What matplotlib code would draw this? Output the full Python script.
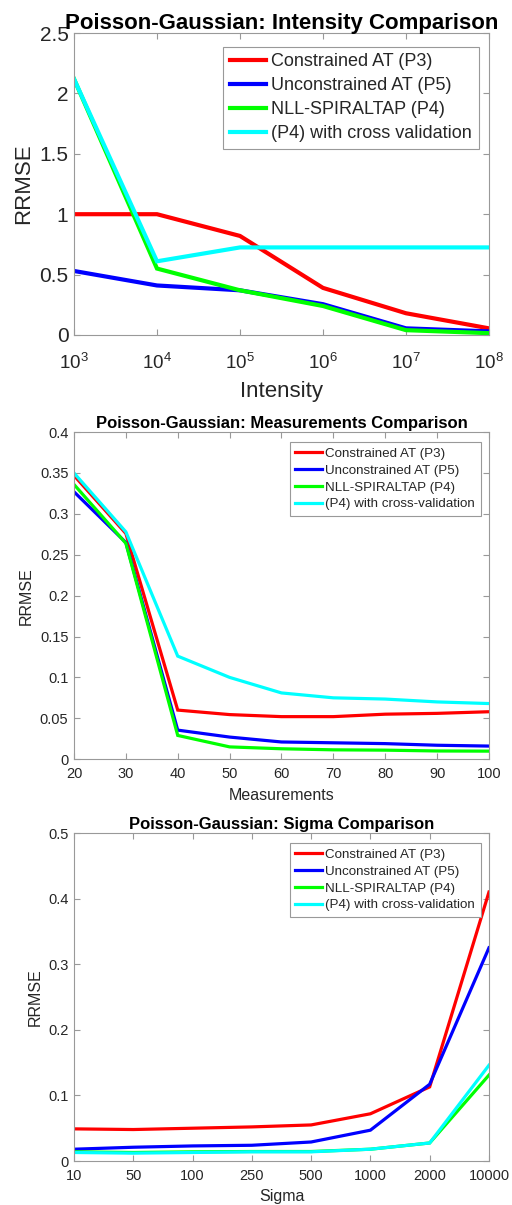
import numpy as np
import matplotlib
matplotlib.use("Agg")
import matplotlib.pyplot as plt
from matplotlib.ticker import FuncFormatter, NullLocator

plt.rcParams['font.family'] = ['Liberation Sans', 'DejaVu Sans']
plt.rcParams['mathtext.default'] = 'regular'

labels = ['Constrained AT (P3)', 'Unconstrained AT (P5)', 'NLL-SPIRALTAP (P4)']
colors = ['#ff0000', '#0000ff', '#00ff00', '#00ffff']

# intensity sweep
intensity = [1e3, 1e4, 1e5, 1e6, 1e7, 1e8]
int_p3 = [1.0, 1.0, 0.82, 0.39, 0.18, 0.055]
int_p5 = [0.53, 0.41, 0.37, 0.255, 0.055, 0.03]
int_p4 = [2.12, 0.55, 0.37, 0.24, 0.04, 0.015]
int_p4cv = [2.12, 0.61, 0.725, 0.725, 0.725, 0.725]

# number of measurements sweep
measurements = [20, 30, 40, 50, 60, 70, 80, 90, 100]
meas_p3 = [0.347, 0.276, 0.060, 0.0545, 0.052, 0.052, 0.055, 0.056, 0.058]
meas_p5 = [0.327, 0.265, 0.0355, 0.027, 0.021, 0.020, 0.019, 0.017, 0.016]
meas_p4 = [0.336, 0.264, 0.029, 0.015, 0.0127, 0.0114, 0.011, 0.010, 0.0098]
meas_p4cv = [0.350, 0.278, 0.126, 0.100, 0.081, 0.075, 0.0735, 0.070, 0.068]

# noise sigma sweep
sigma = ['10', '50', '100', '250', '500', '1000', '2000', '10000']
sig_p3 = [0.049, 0.048, 0.050, 0.052, 0.055, 0.072, 0.113, 0.410]
sig_p5 = [0.018, 0.021, 0.023, 0.024, 0.029, 0.047, 0.117, 0.325]
sig_p4 = [0.014, 0.013, 0.014, 0.0145, 0.0145, 0.018, 0.0275, 0.131]
sig_p4cv = [0.013, 0.012, 0.013, 0.014, 0.014, 0.018, 0.0275, 0.146]


def style_axes(ax, tick_size, xpad):
    for s in ax.spines.values():
        s.set_color('#999999')
        s.set_linewidth(0.8)
    ax.tick_params(direction='in', top=True, right=True, length=4, width=0.8,
                   color='#999999', labelcolor='#262626', labelsize=tick_size, pad=4)
    ax.tick_params(axis='x', pad=xpad)


def draw(ax, x, series, cv_label, lw, fs, title, xlabel, legend_anchor, spacing, bpad):
    names = labels + [cv_label]
    for ys, c, name in zip(series, colors, names):
        ax.plot(x, ys, color=c, lw=lw, label=name, solid_joinstyle='miter')
    ax.set_title(title, fontsize=fs['title'], fontweight='bold', pad=3)
    ax.set_xlabel(xlabel, fontsize=fs['label'], color='#262626', labelpad=fs['labelpad'])
    ax.set_ylabel('RRMSE', fontsize=fs['label'], color='#262626')
    ax.yaxis.set_major_formatter(FuncFormatter(lambda v, p: '%g' % round(v, 4)))
    leg = ax.legend(loc='upper right', bbox_to_anchor=legend_anchor, borderaxespad=0,
                    fontsize=fs['legend'], fancybox=False, framealpha=1,
                    edgecolor='#999999', handlelength=2.0, handletextpad=0.25,
                    labelspacing=spacing, borderpad=bpad)
    leg.get_frame().set_linewidth(0.8)
    for t in leg.get_texts():
        t.set_color('#262626')


fig = plt.figure(figsize=(5.12, 12.05), dpi=100)

ax1 = fig.add_axes([0.1445, 0.722, 0.8105, 0.2506])
ax1.set_xscale('log')
draw(ax1, intensity, [int_p3, int_p5, int_p4, int_p4cv], '(P4) with cross validation', 3.0,
     {'title': 16, 'label': 16, 'legend': 13, 'labelpad': 6},
     'Poisson-Gaussian: Intensity Comparison', 'Intensity', (0.975, 0.955), 0.38, 0.38)
ax1.set_xlim(1e3, 1e8)
ax1.set_ylim(0, 2.5)
ax1.set_yticks(np.arange(0, 2.51, 0.5))
ax1.xaxis.set_minor_locator(NullLocator())
style_axes(ax1, 15, 13)
ax1.tick_params(axis='x', labelsize=13.5)

ax2 = fig.add_axes([0.1445, 0.370, 0.8105, 0.2714])
draw(ax2, measurements, [meas_p3, meas_p5, meas_p4, meas_p4cv], '(P4) with cross-validation', 2.3,
     {'title': 12, 'label': 11.5, 'legend': 9.6, 'labelpad': 5},
     'Poisson-Gaussian: Measurements Comparison', 'Measurements', (0.98, 0.97), 0.34, 0.42)
ax2.set_xlim(20, 100)
ax2.set_ylim(0, 0.4)
ax2.set_xticks(measurements)
ax2.set_yticks(np.arange(0, 0.401, 0.05))
style_axes(ax2, 10.5, 6)

ax3 = fig.add_axes([0.1445, 0.0365, 0.8105, 0.2722])
pos = np.arange(len(sigma))
draw(ax3, pos, [sig_p3, sig_p5, sig_p4, sig_p4cv], '(P4) with cross-validation', 2.3,
     {'title': 12, 'label': 11.5, 'legend': 9.6, 'labelpad': 4},
     'Poisson-Gaussian: Sigma Comparison', 'Sigma', (0.98, 0.97), 0.34, 0.42)
ax3.set_xlim(0, len(sigma) - 1)
ax3.set_ylim(0, 0.5)
ax3.set_xticks(pos)
ax3.set_xticklabels(sigma)
ax3.set_yticks(np.arange(0, 0.501, 0.1))
style_axes(ax3, 10.5, 6)

fig.savefig('out.png', dpi=100, facecolor='white')
